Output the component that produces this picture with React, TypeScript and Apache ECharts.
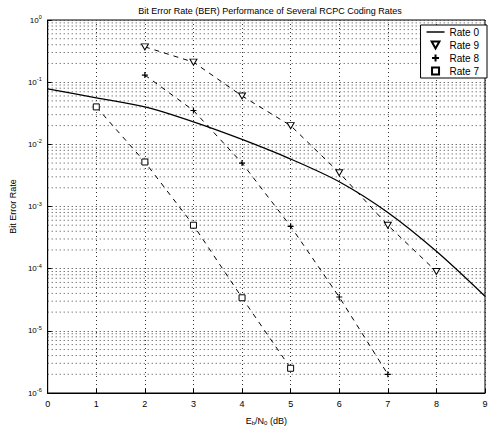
import React, { useEffect, useRef } from "react";
import * as echarts from "echarts";

const titleText = "Bit Error Rate (BER) Performance of Several RCPC Coding Rates";
const xTicks = [0, 1, 2, 3, 4, 5, 6, 7, 8, 9];

const rate0X = [0, 1, 2, 3, 4, 5, 6, 7, 8, 9];
const rate0Y = [0.078, 0.056, 0.04, 0.023, 0.012, 0.0058, 0.0025, 0.0008, 0.00019, 0.000036];

const rate9X = [2, 3, 4, 5, 6, 7, 8];
const rate9Y = [0.37, 0.21, 0.06, 0.02, 0.0035, 0.0005, 0.00009];

const rate8X = [2, 3, 4, 5, 6, 7];
const rate8Y = [0.13, 0.035, 0.005, 0.00048, 0.000035, 0.000002];

const rate7X = [1, 2, 3, 4, 5];
const rate7Y = [0.04, 0.0052, 0.0005, 0.000034, 0.0000025];

const decades = [-6, -5, -4, -3, -2, -1];
const minorMultipliers = [2, 3, 4, 5, 6, 7, 8, 9];

const TRI_DOWN = "path://M0,0 L10,0 L5,9 Z";
const PLUS = "path://M5,0 L5,10 M0,5 L10,5";
const SQUARE = "path://M0,0 L10,0 L10,10 L0,10 Z";
const LINE_ICON = "path://M0,0 L16,0 L16,1.3 L0,1.3 Z";

const pairs = (xs: number[], ys: number[]) => xs.map((x, i) => [x, ys[i]]);

export default function App() {
  const ref = useRef<HTMLDivElement>(null);
  useEffect(() => {
    if (!ref.current) return;
    const chart = echarts.init(ref.current, undefined, { renderer: "svg" });
    const minorValues: number[] = [];
    decades.forEach((d) => minorMultipliers.forEach((m) => minorValues.push(m * Math.pow(10, d))));
    const font = "Liberation Sans, Arial, sans-serif";
    const gridSeries = minorValues.map((v, i) => ({
      name: "minor" + i,
      type: "line",
      data: [
        [xTicks[0], v],
        [xTicks[xTicks.length - 1], v],
      ],
      symbol: "none",
      silent: true,
      lineStyle: { color: "#444", type: [1, 3], width: 1 },
      z: 1,
    }));
    chart.setOption({
      animation: false,
      backgroundColor: "#fff",
      textStyle: { fontFamily: font, color: "#000" },
      title: {
        text: titleText,
        left: 265,
        textAlign: "center",
        top: 1,
        textStyle: { fontSize: 9, fontWeight: "normal", color: "#000", fontFamily: font },
      },
      legend: {
        orient: "vertical",
        right: 14,
        top: 25,
        backgroundColor: "#fff",
        borderColor: "#000",
        borderWidth: 1,
        borderRadius: 0,
        padding: [2, 8, 2, 6],
        itemGap: 3,
        itemWidth: 18,
        itemHeight: 7,
        symbolKeepAspect: true,
        textStyle: { fontSize: 10, color: "#000", fontFamily: font },
        data: [
          { name: "Rate 0", icon: LINE_ICON },
          { name: "Rate 9", icon: TRI_DOWN },
          { name: "Rate 8", icon: PLUS },
          { name: "Rate 7", icon: SQUARE },
        ],
      },
      grid: {
        left: 45,
        right: 16,
        top: 20,
        bottom: 35,
        show: true,
        borderColor: "#000",
        borderWidth: 1,
        backgroundColor: "transparent",
      },
      xAxis: {
        type: "value",
        min: 0,
        max: 9,
        interval: 1,
        name: "{n|E}{s|b}{n|/N}{s|0}{n| (dB)}",
        nameLocation: "middle",
        nameGap: 22,
        nameTextStyle: {
          rich: {
            n: { fontSize: 9, fontFamily: font, color: "#000" },
            s: { fontSize: 6, fontFamily: font, color: "#000", padding: [5, 0, 0, 0] },
          },
        },
        axisLine: { show: true, lineStyle: { color: "#000", width: 1 } },
        axisTick: { show: true, inside: true, length: 4, lineStyle: { color: "#000" } },
        axisLabel: { fontSize: 9, color: "#000", margin: 6, fontFamily: font },
        splitLine: { show: true, lineStyle: { color: "#333", type: [1, 3], width: 1 } },
      },
      yAxis: {
        type: "log",
        logBase: 10,
        min: 1e-6,
        max: 1,
        name: "Bit Error Rate",
        nameLocation: "middle",
        nameGap: 24,
        nameRotate: 90,
        nameTextStyle: { fontSize: 9, color: "#000", fontFamily: font },
        axisLine: { show: true, lineStyle: { color: "#000", width: 1 } },
        axisTick: { show: true, inside: true, length: 4, lineStyle: { color: "#000" } },
        axisLabel: {
          margin: 6,
          formatter: (v: number) => {
            const e = Math.round(Math.log10(v));
            return "{b|10}{s|" + e + "}";
          },
          rich: {
            b: { fontSize: 8, fontFamily: font, color: "#000" },
            s: { fontSize: 5.5, fontFamily: font, color: "#000", padding: [0, 0, 6, 0] },
          },
        },
        splitLine: { show: true, lineStyle: { color: "#333", type: [1, 3], width: 1 } },
      },
      series: [
        ...gridSeries,
        {
          name: "Rate 0",
          type: "line",
          data: pairs(rate0X, rate0Y),
          symbol: "none",
          smooth: 0.3,
          lineStyle: { color: "#000", width: 1.3 },
          itemStyle: { color: "#000" },
          z: 5,
        },
        {
          name: "Rate 9",
          type: "line",
          data: pairs(rate9X, rate9Y),
          symbol: TRI_DOWN,
          symbolSize: [7, 6],
          lineStyle: { color: "#000", width: 1, type: [5, 5] },
          itemStyle: { color: "#fff", borderColor: "#000", borderWidth: 1 },
          z: 5,
        },
        {
          name: "Rate 8",
          type: "line",
          data: pairs(rate8X, rate8Y),
          symbol: PLUS,
          symbolSize: 6,
          lineStyle: { color: "#000", width: 1, type: [5, 5] },
          itemStyle: { color: "#000", borderColor: "#000", borderWidth: 1.2 },
          z: 5,
        },
        {
          name: "Rate 7",
          type: "line",
          data: pairs(rate7X, rate7Y),
          symbol: SQUARE,
          symbolSize: 6,
          lineStyle: { color: "#000", width: 1, type: [5, 5] },
          itemStyle: { color: "#fff", borderColor: "#000", borderWidth: 1 },
          z: 5,
        },
      ],
    });
    return () => chart.dispose();
  }, []);
  return <div ref={ref} style={{ width: 501, height: 431, position: "absolute", left: 0, top: 0 }} />;
}
